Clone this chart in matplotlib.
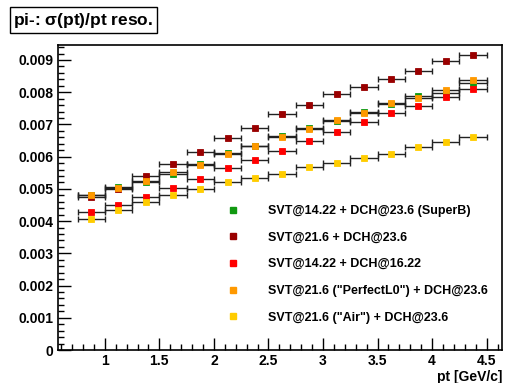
import numpy as np
import matplotlib
matplotlib.use("Agg")
import matplotlib.pyplot as plt
from matplotlib.lines import Line2D
from matplotlib.ticker import MultipleLocator, FuncFormatter

plt.rcParams['font.family'] = ['Liberation Sans', 'DejaVu Sans']
plt.rcParams['font.weight'] = 'bold'

# pt bin centres [GeV/c]
pt = [0.875, 1.125, 1.375, 1.625, 1.875, 2.125, 2.375, 2.625,
      2.875, 3.125, 3.375, 3.625, 3.875, 4.125, 4.375]
pt_halfwidth = 0.125

# sigma(pt)/pt for each detector configuration
superb = [0.00480, 0.00505, 0.00522, 0.00547, 0.00576, 0.00611, 0.00633, 0.00665,
          0.00690, 0.00710, 0.00740, 0.00764, 0.00787, 0.00797, 0.00830]
svt216 = [0.00474, 0.00500, 0.00540, 0.00577, 0.00614, 0.00657, 0.00689, 0.00731,
          0.00760, 0.00794, 0.00816, 0.00840, 0.00867, 0.00898, 0.00916]
dch1622 = [0.00429, 0.00449, 0.00475, 0.00502, 0.00530, 0.00564, 0.00590, 0.00618,
           0.00650, 0.00675, 0.00706, 0.00735, 0.00758, 0.00784, 0.00810]
perfectl0 = [0.00481, 0.00502, 0.00525, 0.00551, 0.00575, 0.00608, 0.00634, 0.00661,
             0.00687, 0.00713, 0.00737, 0.00766, 0.00783, 0.00807, 0.00837]
air = [0.00407, 0.00434, 0.00460, 0.00480, 0.00501, 0.00520, 0.00534, 0.00547,
       0.00567, 0.00580, 0.00595, 0.00609, 0.00630, 0.00645, 0.00661]

labels = ['SVT@14.22 + DCH@23.6 (SuperB)',
          'SVT@21.6 + DCH@23.6',
          'SVT@14.22 + DCH@16.22',
          'SVT@21.6 ("PerfectL0") + DCH@23.6',
          'SVT@21.6 ("Air") + DCH@23.6']
colors = ['#119911', '#990000', '#ff0000', '#ff9900', '#ffcc00']
series = [superb, svt216, dch1622, perfectl0, air]

fig = plt.figure(figsize=(5.08, 3.83), dpi=100)
ax = fig.add_axes([0.114, 0.086, 0.874, 0.797])

for vals, col in zip(series, colors):
    ax.errorbar(pt, vals, xerr=pt_halfwidth, fmt='none', ecolor='#222222',
                elinewidth=1.0, capsize=2.5, capthick=1.0)
for vals, col in zip(series, colors):
    ax.plot(pt, vals, 's', color=col, markersize=5, markeredgecolor=col,
            markeredgewidth=0.6, linestyle='none')

ax.set_xlim(0.57, 4.64)
ax.set_ylim(0, 0.00947)

ax.xaxis.set_major_locator(MultipleLocator(0.5))
ax.xaxis.set_minor_locator(MultipleLocator(0.1))
ax.yaxis.set_major_locator(MultipleLocator(0.001))
ax.yaxis.set_minor_locator(MultipleLocator(0.0002))
ax.yaxis.set_major_formatter(FuncFormatter(lambda v, p: '0' if abs(v) < 1e-9 else '%.3f' % v))
ax.xaxis.set_major_formatter(FuncFormatter(lambda v, p: '%g' % v))
ax.tick_params(which='both', direction='in', top=False, right=False,
               labelsize=10, width=1)
ax.tick_params(which='major', length=9)
ax.tick_params(which='minor', length=4.5)
ax.tick_params(axis='x', pad=3)
for s in ax.spines.values():
    s.set_linewidth(1.2)

ax.set_xlabel('pt [GeV/c]', fontsize=10, fontweight='bold', ha='right', va='top')
ax.xaxis.set_label_coords(1.0, -0.064)

handles = [Line2D([], [], marker='s', color=c, linestyle='none', markersize=5)
           for c in colors]
leg = ax.legend(handles, labels, loc='upper left', bbox_to_anchor=(0.355, 0.512),
                frameon=False, prop={'size': 9, 'weight': 'bold'},
                labelspacing=1.17, handletextpad=2.3, handlelength=1.0)

fig.text(0.026, 0.947, r'pi-: $\mathregular{\sigma}$(pt)/pt reso.', fontsize=12.5,
         fontweight='bold', va='center', ha='left',
         bbox=dict(boxstyle='square,pad=0.2', fc='white', ec='black', lw=1))

fig.savefig('out.png', dpi=100)
